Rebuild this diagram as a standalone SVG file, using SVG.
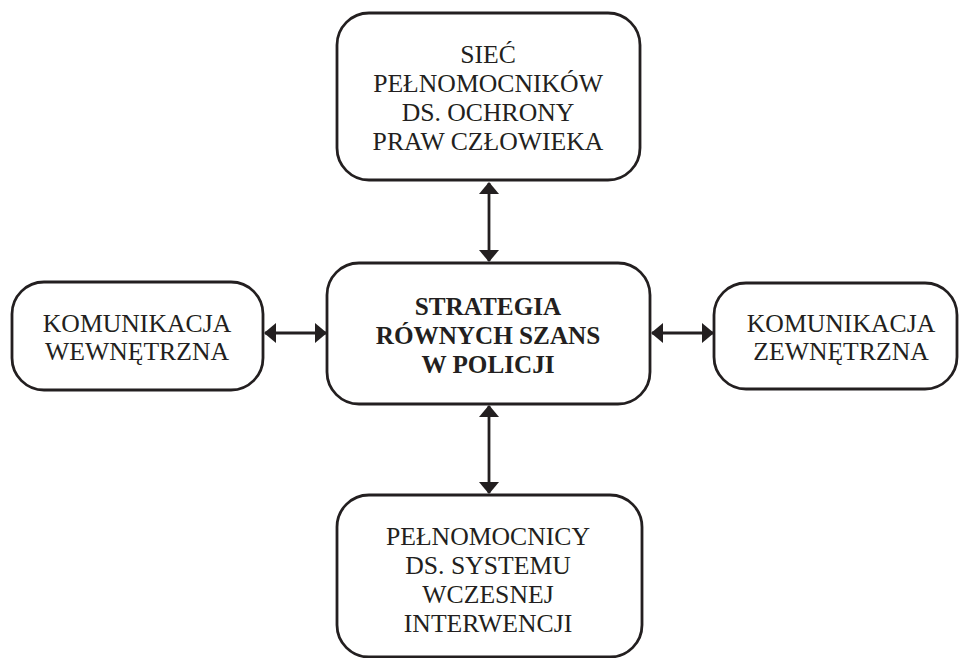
<svg xmlns="http://www.w3.org/2000/svg" width="959" height="658" viewBox="0 0 959 658">
<style>
.box{fill:#fff;stroke:#231f20;stroke-width:2.8}
.t{font-family:"Liberation Serif","Times New Roman",serif;font-size:25.7px;fill:#231f20;text-anchor:middle}
.b{font-weight:bold;font-size:25.2px}
.c{stroke:#231f20;stroke-width:2.8;fill:none}
</style>
<defs>
<marker id="ah" viewBox="0 0 12 20" refX="11" refY="10" markerWidth="12" markerHeight="20" markerUnits="userSpaceOnUse" orient="auto-start-reverse">
<path d="M0,0 L12,10 L0,20 Z" fill="#231f20"/>
</marker>
</defs>
<rect width="959" height="658" fill="#fff"/>
<g id="connectors">
<line class="c" x1="489" y1="183" x2="489" y2="261" marker-start="url(#ah)" marker-end="url(#ah)"/>
<line class="c" x1="489" y1="406" x2="489" y2="493" marker-start="url(#ah)" marker-end="url(#ah)"/>
<line class="c" x1="265" y1="333" x2="326" y2="333" marker-start="url(#ah)" marker-end="url(#ah)"/>
<line class="c" x1="652" y1="333" x2="713" y2="333" marker-start="url(#ah)" marker-end="url(#ah)"/>
</g>
<g id="top">
<rect class="box" x="337" y="13" width="303" height="167" rx="32"/>
<text class="t" x="488" y="63">SIEĆ</text>
<text class="t" x="488" y="92">PEŁNOMOCNIKÓW</text>
<text class="t" x="488" y="121">DS. OCHRONY</text>
<text class="t" x="488" y="150">PRAW CZŁOWIEKA</text>
</g>
<g id="center">
<rect class="box" x="327" y="263" width="323" height="141" rx="32"/>
<text class="t b" x="488" y="315">STRATEGIA</text>
<text class="t b" x="488" y="344">RÓWNYCH SZANS</text>
<text class="t b" x="488" y="373">W POLICJI</text>
</g>
<g id="left">
<rect class="box" x="12" y="282" width="251" height="108" rx="32"/>
<text class="t" x="137" y="332">KOMUNIKACJA</text>
<text class="t" x="137" y="360">WEWNĘTRZNA</text>
</g>
<g id="right">
<rect class="box" x="714" y="283" width="243" height="106" rx="32"/>
<text class="t" x="841" y="332">KOMUNIKACJA</text>
<text class="t" x="841" y="360">ZEWNĘTRZNA</text>
</g>
<g id="bottom">
<rect class="box" x="337" y="495" width="305" height="162" rx="32"/>
<text class="t" x="488" y="545">PEŁNOMOCNICY</text>
<text class="t" x="488" y="574">DS. SYSTEMU</text>
<text class="t" x="488" y="603">WCZESNEJ</text>
<text class="t" x="488" y="632">INTERWENCJI</text>
</g>
</svg>
